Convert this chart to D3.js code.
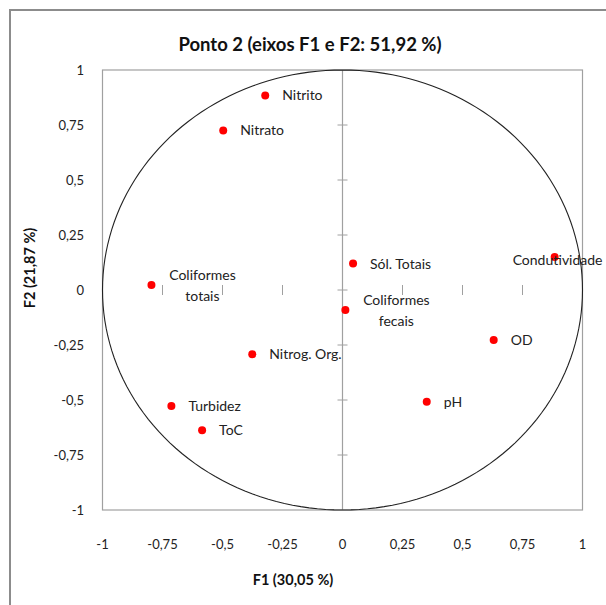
<!DOCTYPE html>
<html>
<head>
<meta charset="utf-8">
<script src="https://cdn.jsdelivr.net/npm/d3@7"></script>
<style>
  body { margin: 0; background: #fff; }
  svg { display: block; font-family: Lato, 'Open Sans', sans-serif; }
</style>
</head>
<body>
<div id="chart"></div>
<script>
// variable names and loadings on F1 / F2
const names = ['Nitrito', 'Nitrato', 'Coliformes totais', 'Sól. Totais', 'Condutividade',
  'Coliformes fecais', 'OD', 'pH', 'Nitrog. Org.', 'Turbidez', 'ToC'];
const f1 = [-0.322, -0.497, -0.796, 0.044, 0.884, 0.012, 0.630, 0.351, -0.376, -0.713, -0.585];
const f2 = [0.884, 0.725, 0.023, 0.120, 0.150, -0.091, -0.227, -0.508, -0.292, -0.527, -0.637];
const ticks = [-1, -0.75, -0.5, -0.25, 0, 0.25, 0.5, 0.75, 1];

const W = 606, H = 605;
const plot = {left: 102.5, right: 582.5, top: 70, bottom: 510};

const svg = d3.select('#chart').append('svg')
    .attr('width', W)
    .attr('height', H);

const x = d3.scaleLinear().domain([-1, 1]).range([plot.left, plot.right]);
const y = d3.scaleLinear().domain([-1, 1]).range([plot.bottom, plot.top]);
const fmt = d => String(d).replace('.', ',');

// outer frame (only top and left visible)
svg.append('path')
    .attr('d', `M10,${H} L10,10 L${W},10`)
    .attr('fill', 'none')
    .attr('stroke', '#8c8c8c')
    .attr('stroke-width', 2);

svg.append('text')
    .attr('x', 310)
    .attr('y', 51)
    .attr('text-anchor', 'middle')
    .attr('font-size', 18.5)
    .attr('font-weight', 'bold')
    .attr('fill', '#111')
    .text('Ponto 2 (eixos F1 e F2: 51,92 %)');

// plot area
svg.append('rect')
    .attr('x', plot.left)
    .attr('y', plot.top)
    .attr('width', plot.right - plot.left)
    .attr('height', plot.bottom - plot.top)
    .attr('fill', 'none')
    .attr('stroke', '#a0a0a0')
    .attr('stroke-width', 1.2);

// vertical axis at x = 0 with cross ticks
svg.append('line')
    .attr('x1', x(0)).attr('x2', x(0))
    .attr('y1', plot.top).attr('y2', plot.bottom)
    .attr('stroke', '#a0a0a0')
    .attr('stroke-width', 1.2);

svg.append('g')
  .selectAll('line')
    .data(ticks.filter(t => Math.abs(t) < 1))
  .enter().append('line')
    .attr('x1', x(0) - 5).attr('x2', x(0) + 5)
    .attr('y1', d => y(d)).attr('y2', d => y(d))
    .attr('stroke', '#a0a0a0');

// horizontal axis ticks at y = 0 (no axis line)
svg.append('g')
  .selectAll('line')
    .data(ticks.filter(t => Math.abs(t) < 1))
  .enter().append('line')
    .attr('x1', d => x(d)).attr('x2', d => x(d))
    .attr('y1', y(0) - 5).attr('y2', y(0) + 5)
    .attr('stroke', '#a0a0a0');

// tick labels
svg.append('g')
  .selectAll('text')
    .data(ticks)
  .enter().append('text')
    .attr('x', 84)
    .attr('y', d => y(d))
    .attr('dy', '0.35em')
    .attr('text-anchor', 'end')
    .attr('font-size', 13)
    .attr('fill', '#222')
    .text(fmt);

svg.append('g')
  .selectAll('text')
    .data(ticks)
  .enter().append('text')
    .attr('x', d => x(d))
    .attr('y', 544)
    .attr('dy', '0.35em')
    .attr('text-anchor', 'middle')
    .attr('font-size', 13)
    .attr('fill', '#222')
    .text(fmt);

// axis titles
svg.append('text')
    .attr('x', 293)
    .attr('y', 585)
    .attr('text-anchor', 'middle')
    .attr('font-size', 14.5)
    .attr('font-weight', 'bold')
    .attr('fill', '#111')
    .text('F1 (30,05 %)');

svg.append('text')
    .attr('transform', 'translate(35,268) rotate(-90)')
    .attr('text-anchor', 'middle')
    .attr('font-size', 14.5)
    .attr('font-weight', 'bold')
    .attr('fill', '#111')
    .text('F2 (21,87 %)');

// correlation circle
const angles = d3.range(0, 361, 2).map(a => a * Math.PI / 180);
svg.append('path')
    .datum(angles)
    .attr('d', d3.line()
      .x(a => x(Math.cos(a)))
      .y(a => y(Math.sin(a))))
    .attr('fill', 'none')
    .attr('stroke', '#222')
    .attr('stroke-width', 1.1);

// points
const pts = names.map((n, i) => ({name: n, x: f1[i], y: f2[i]}));

svg.append('g')
  .selectAll('circle')
    .data(pts)
  .enter().append('circle')
    .attr('cx', d => x(d.x))
    .attr('cy', d => y(d.y))
    .attr('r', 4)
    .attr('fill', '#ff0000');

// labels: two-word coliform names wrap and centre, others sit to the right
const labels = svg.append('g')
    .attr('font-size', 14)
    .attr('fill', '#222');

pts.forEach(d => {
  const px = x(d.x), py = y(d.y);
  if (d.name.startsWith('Coliformes')) {
    const words = d.name.split(' ');
    const t = labels.append('text')
        .attr('text-anchor', 'middle');
    words.forEach((w, i) => {
      t.append('tspan')
          .attr('x', px + 51)
          .attr('y', py - 10 + i * 21)
          .attr('dy', '0.35em')
          .text(w);
    });
  } else if (d.name === 'Condutividade') {
    labels.append('text')
        .attr('x', px - 42)
        .attr('y', py + 3)
        .attr('dy', '0.35em')
        .text(d.name);
  } else {
    labels.append('text')
        .attr('x', px + 17)
        .attr('y', py)
        .attr('dy', '0.35em')
        .text(d.name);
  }
});
</script>
</body>
</html>
